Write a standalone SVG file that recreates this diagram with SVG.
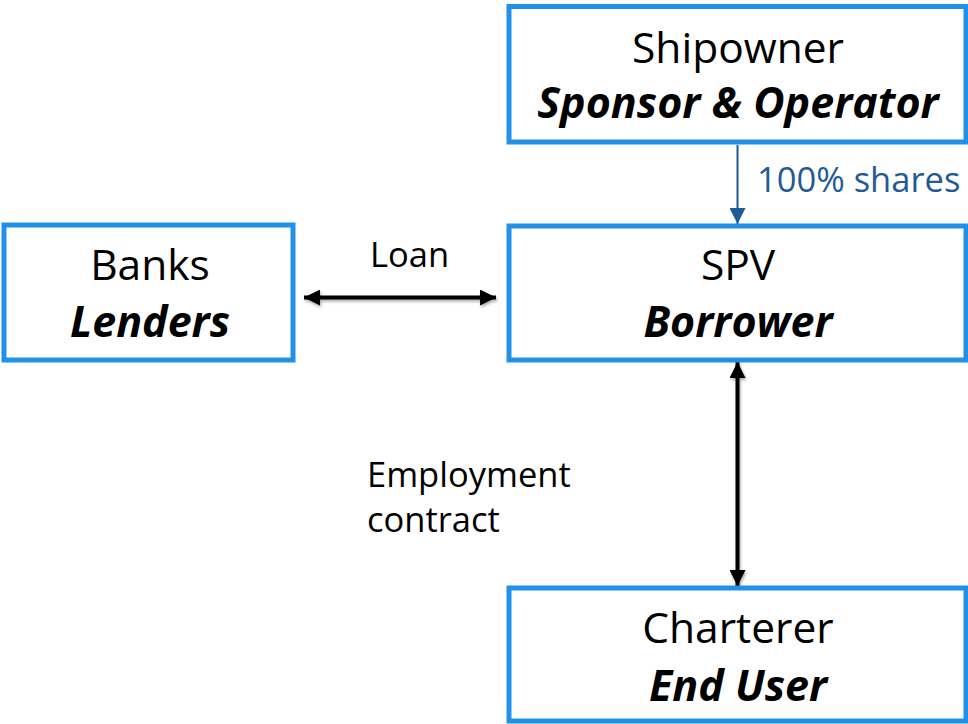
<svg xmlns="http://www.w3.org/2000/svg" width="968" height="724" viewBox="0 0 968 724">
<defs>
<style>
.box{fill:#fff;stroke:#2190e8;stroke-width:5}
.t{font-family:"Open Sans","DejaVu Sans",sans-serif;font-size:42.5px;fill:#000;text-anchor:middle}
.b{font-weight:bold;font-style:italic;font-size:43px}
.lbl{font-family:"Open Sans","DejaVu Sans",sans-serif;font-size:34.5px;fill:#000}
.blue{fill:#1f5b96}
.bk{stroke:#000;stroke-width:4;fill:none}
</style>
<marker id="ah" viewBox="0 0 10 10" refX="10" refY="5" markerWidth="4" markerHeight="4" orient="auto-start-reverse" markerUnits="strokeWidth">
<path d="M0,0 L10,5 L0,10 z" fill="#000"/>
</marker>
<marker id="ahb" viewBox="0 0 10 10" refX="10" refY="5" markerWidth="8" markerHeight="8" orient="auto" markerUnits="strokeWidth">
<path d="M0,0 L10,5 L0,10 z" fill="#1f5b96"/>
</marker>
<filter id="sh" filterUnits="userSpaceOnUse" x="0" y="0" width="968" height="724">
<feDropShadow dx="1" dy="2" stdDeviation="1.5" flood-color="#000" flood-opacity="0.35"/>
</filter>
</defs>
<g id="connectors">
<line x1="737.5" y1="145" x2="737.5" y2="224" stroke="#1f5b96" stroke-width="2" marker-end="url(#ahb)"/>
<g filter="url(#sh)">
<line class="bk" x1="304" y1="297.5" x2="496" y2="297.5" marker-start="url(#ah)" marker-end="url(#ah)"/>
<line class="bk" x1="737.5" y1="362" x2="737.5" y2="586" marker-start="url(#ah)" marker-end="url(#ah)"/>
</g>
<text class="lbl blue" x="757" y="192">100% shares</text>
<text class="lbl" x="370" y="267">Loan</text>
<text class="lbl" x="367" y="487">Employment</text>
<text class="lbl" x="367" y="532">contract</text>
</g>
<g id="shipowner">
<rect class="box" x="509" y="6.5" width="457" height="135.5"/>
<text class="t" x="738" y="63">Shipowner</text>
<text class="t b" x="738" y="118">Sponsor &amp; Operator</text>
</g>
<g id="banks">
<rect class="box" x="4" y="225" width="289" height="135"/>
<text class="t" x="150" y="280">Banks</text>
<text class="t b" x="150" y="337">Lenders</text>
</g>
<g id="spv">
<rect class="box" x="509" y="226" width="457" height="134"/>
<text class="t" x="738" y="280">SPV</text>
<text class="t b" x="738" y="337">Borrower</text>
</g>
<g id="charterer">
<rect class="box" x="509" y="588" width="457" height="133"/>
<text class="t" x="738" y="643">Charterer</text>
<text class="t b" x="738" y="701">End User</text>
</g>
</svg>
